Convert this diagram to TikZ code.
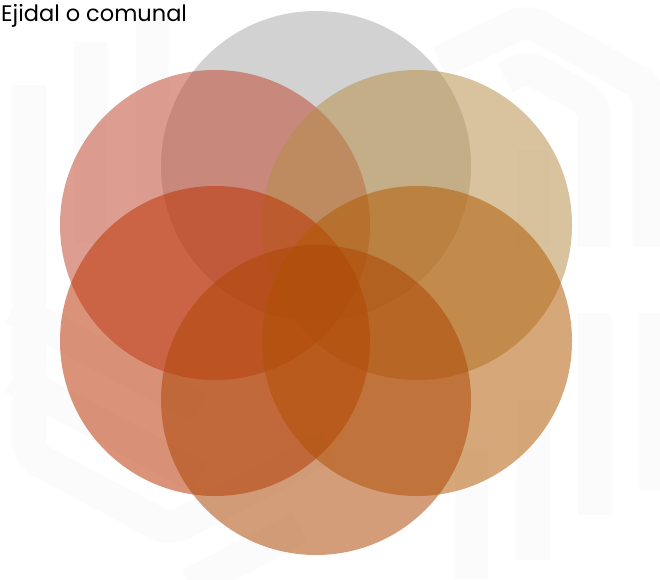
\documentclass[tikz,border=0pt]{standalone}
\usepackage{fontspec}
\setmainfont{Poppins}
\definecolor{wm}{RGB}{251,251,251}
\definecolor{cgray}{RGB}{170,170,170}
\definecolor{ctl}{RGB}{192,72,48}
\definecolor{ctr}{RGB}{182,142,72}
\definecolor{cbl}{RGB}{186,50,2}
\definecolor{cbr}{RGB}{178,90,2}
\definecolor{cb}{RGB}{174,70,4}
\begin{document}
\begin{tikzpicture}[x=1pt,y=-1pt,
  wmband/.style={draw=wm,line width=33pt,line cap=butt,rounded corners=14pt},
  blob/.style={circle,inner sep=0pt,minimum size=310pt,fill opacity=0.53,draw=none}]
\useasboundingbox (0,0) rectangle (660,579);
\fill[white] (0,0) rectangle (660,579);
% faint watermark
\draw[wmband] (29.5,85) -- (29.5,455) -- (170,530) -- (330,445);
\draw[wmband] (90.5,243) -- (90.5,42);
\draw[wmband] (152,200) -- (152,15);
\draw[wmband] (13,308) -- (200,408);
\draw[wmband] (13,378) -- (200,478);
\draw[wmband] (190,585) -- (300,527);
\draw[wmband] (471,579) -- (471,450);
\draw[wmband] (533.5,560) -- (533.5,400);
\draw[wmband] (594.5,515) -- (594.5,313);
\draw[wmband] (655,490) -- (655,313);
\draw[wmband] (440,62) -- (527,20) -- (649,88) -- (649,247);
\draw[wmband] (505,78) -- (527,66) -- (594,104) -- (594,247);
\draw[wmband] (533,247) -- (533,150);
% circles
\node[blob,fill=cgray] (top) at (316,166) {};
\node[blob,fill=ctl] (tl) at (215,225) {};
\node[blob,fill=ctr] (tr) at (417,225) {};
\node[blob,fill=cbl] (bl) at (215,341) {};
\node[blob,fill=cbr] (br) at (417,341) {};
\node[blob,fill=cb] (bot) at (316,400) {};
% title
\node[anchor=base west,inner sep=0pt,font=\fontsize{22.5}{26}\selectfont] (title) at (1,21) {Ejidal o comunal};
\end{tikzpicture}
\end{document}
